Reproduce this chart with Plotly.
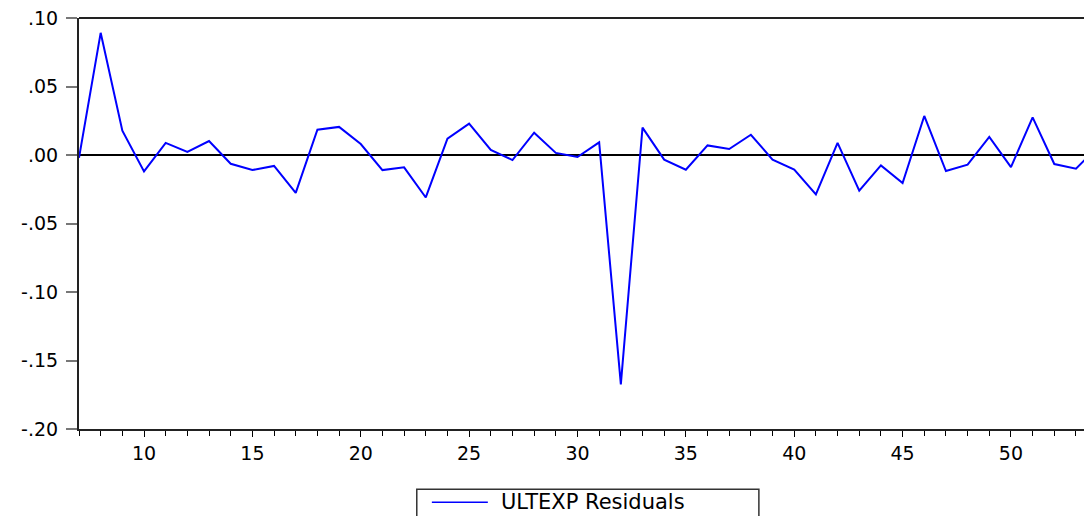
import plotly.graph_objects as go

obs = list(range(7, 55))
residuals = [
    -0.002, 0.0892, 0.0178, -0.012, 0.0088, 0.0022, 0.0102, -0.0064, -0.011, -0.008,
    -0.0276, 0.0185, 0.0205, 0.008, -0.011, -0.009, -0.031, 0.0119, 0.0229, 0.0037,
    -0.0037, 0.0163, 0.0015, -0.0015, 0.0092, -0.1674, 0.020, -0.0034, -0.0107, 0.007,
    0.0044, 0.0148, -0.0034, -0.0107, -0.0288, 0.0088, -0.0261, -0.0076, -0.0205, 0.0285,
    -0.0117, -0.0071, 0.0132, -0.0088, 0.0275, -0.0066, -0.010, 0.006,
]
series_name = "ULTEXP Residuals"

y_tickvals = [0.10, 0.05, 0.00, -0.05, -0.10, -0.15, -0.20]
y_ticktext = [".10", ".05", ".00", "-.05", "-.10", "-.15", "-.20"]
x_tickvals = [10, 15, 20, 25, 30, 35, 40, 45, 50]

FONT = dict(family="DejaVu Sans", size=19, color="black")
LEG_FONT = dict(family="DejaVu Sans", size=21, color="black")
BLUE = "#0000FF"

fig = go.Figure()
fig.add_trace(go.Scatter(
    x=obs, y=residuals, mode="lines", name=series_name,
    line=dict(color=BLUE, width=2), showlegend=False,
))

# Legend box drawn below the plot (EViews style)
leg_y = -0.1785
shapes = [
    dict(type="line", xref="paper", yref="paper", x0=0, x1=1, y0=1, y1=1,
         line=dict(color="#222", width=2)),
    dict(type="rect", xref="paper", yref="paper", x0=0.3361, x1=0.6765, y0=-0.1468, y1=-0.23,
         line=dict(color="#333", width=1.5), fillcolor="white"),
    dict(type="line", xref="paper", yref="paper", x0=0.3511, x1=0.4068, y0=leg_y, y1=leg_y,
         line=dict(color=BLUE, width=1.5)),
]
annotations = [
    dict(xref="paper", yref="paper", x=0.4177, y=leg_y, xanchor="left", yanchor="middle",
         text=series_name, showarrow=False, font=LEG_FONT),
]

fig.update_layout(
    width=1084, height=516,
    margin=dict(l=79, r=0, t=18, b=87, autoexpand=False),
    paper_bgcolor="white", plot_bgcolor="white",
    font=FONT,
    showlegend=False,
    xaxis=dict(
        range=[7, 53.37], tickvals=x_tickvals,
        ticks="outside", ticklen=6, tickwidth=1, tickcolor="black",
        minor=dict(dtick=1, tick0=7, ticks="outside", ticklen=5, tickcolor="black", showgrid=False),
        showline=True, linecolor="#222", linewidth=2,
        showgrid=False, zeroline=False,
        tickfont=FONT,
    ),
    yaxis=dict(
        range=[-0.2, 0.1], tickvals=y_tickvals, ticktext=y_ticktext,
        ticks="outside", ticklen=11, tickwidth=1.5, tickcolor="#777",
        showline=True, linecolor="#222", linewidth=2,
        showgrid=False, zeroline=True, zerolinecolor="black", zerolinewidth=1.5,
        tickfont=FONT, ticklabelstandoff=4,
    ),
    shapes=shapes,
    annotations=annotations,
)

fig.write_html("out.html")
